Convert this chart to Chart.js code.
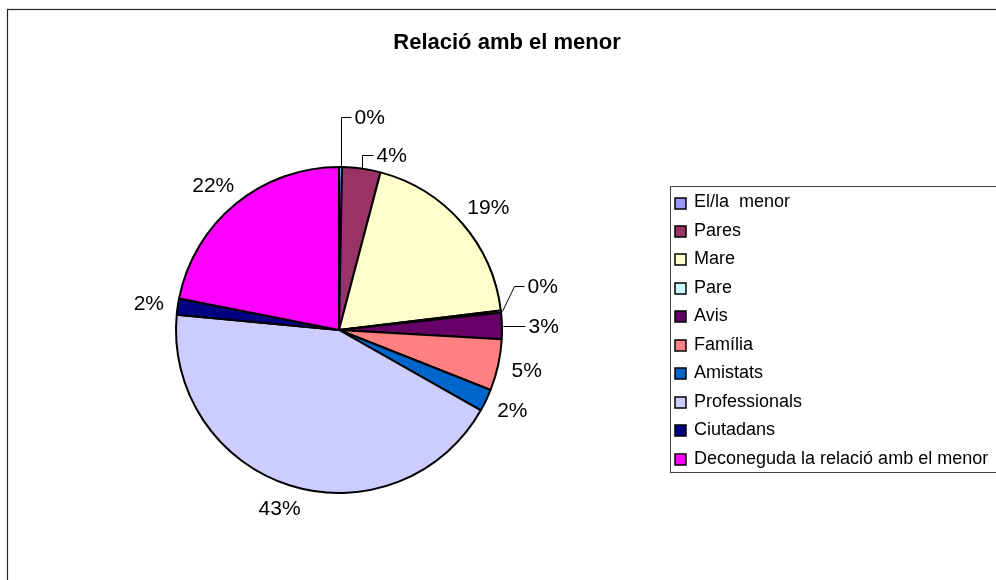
<!DOCTYPE html>
<html>
<head>
<meta charset="utf-8">
<script src="https://cdn.jsdelivr.net/npm/chart.js@4/dist/chart.umd.min.js"></script>
<style>
  html, body { margin: 0; padding: 0; background: #fff; }
  #wrap { width: 996px; height: 580px; }
</style>
</head>
<body>
<div id="wrap"><canvas id="chart" width="996" height="580"></canvas></div>
<script>
const chartTitle = 'Relació amb el menor';
const categories = ['El/la  menor', 'Pares', 'Mare', 'Pare', 'Avis', 'Família', 'Amistats', 'Professionals', 'Ciutadans', 'Deconeguda la relació amb el menor'];
const percentValues = [0.3, 3.8, 19.0, 0.2, 2.6, 5.1, 2.2, 43.3, 1.6, 21.9];
const sliceColors = ['#9999FF', '#993366', '#FFFFCC', '#CCFFFF', '#660066', '#FF8080', '#0066CC', '#CCCCFF', '#000080', '#FF00FF'];

// labels of the thin slices are pulled out with a leader line
const callouts = {
    0: { dx: 0, dy: -49, run: 10 },
    1: { dx: 0, dy: -13, run: 11 },
    3: { dx: 12, dy: -25, run: 10 },
    4: { dx: 0, dy: 0, run: 22 }
};

const FONT = '"Liberation Sans", Arial, sans-serif';

const frameAndTitle = {
    id: 'frameAndTitle',
    beforeDraw(chart) {
        const ctx = chart.ctx;
        ctx.save();
        ctx.fillStyle = '#fff';
        ctx.fillRect(0, 0, chart.width, chart.height);
        ctx.strokeStyle = '#222';
        ctx.lineWidth = 1.2;
        ctx.strokeRect(7.5, 9.5, 1200, 1000);
        ctx.fillStyle = '#000';
        ctx.font = 'bold 22px ' + FONT;
        ctx.textAlign = 'center';
        ctx.textBaseline = 'alphabetic';
        ctx.fillText(chartTitle, 507, 49);
        ctx.restore();
    }
};

const sideLegend = {
    id: 'sideLegend',
    afterDraw(chart) {
        const ctx = chart.ctx;
        const labels = chart.data.labels;
        const colors = chart.data.datasets[0].backgroundColor;
        ctx.save();
        ctx.strokeStyle = '#444';
        ctx.lineWidth = 1;
        ctx.strokeRect(670.5, 186.5, 400, 286);
        ctx.font = '18px ' + FONT;
        ctx.textAlign = 'left';
        ctx.textBaseline = 'middle';
        labels.forEach((label, i) => {
            const cy = 202.5 + i * 28.45;
            ctx.fillStyle = colors[i];
            ctx.fillRect(675, Math.round(cy) - 5, 11, 11);
            ctx.strokeStyle = '#000';
            ctx.lineWidth = 1.5;
            ctx.strokeRect(675, Math.round(cy) - 5, 11, 11);
            ctx.fillStyle = '#000';
            ctx.fillText(label, 694, cy);
        });
        ctx.restore();
    }
};

const pieLabels = {
    id: 'pieLabels',
    afterDatasetsDraw(chart) {
        const ctx = chart.ctx;
        const meta = chart.getDatasetMeta(0);
        const values = chart.data.datasets[0].data;
        const total = values.reduce((a, b) => a + b, 0);
        ctx.save();
        ctx.font = '21px ' + FONT;
        ctx.fillStyle = '#000';
        ctx.strokeStyle = '#000';
        ctx.lineWidth = 1;
        meta.data.forEach((arc, i) => {
            const p = arc.getProps(['x', 'y', 'startAngle', 'endAngle', 'outerRadius'], true);
            const mid = (p.startAngle + p.endAngle) / 2;
            const cos = Math.cos(mid), sin = Math.sin(mid);
            const text = Math.round(values[i] / total * 100) + '%';
            const c = callouts[i];
            if (c) {
                const px = Math.round(p.x + cos * (p.outerRadius + 1)) + 0.5;
                const py = Math.round(p.y + sin * (p.outerRadius + 1)) + 0.5;
                const ex = px + c.dx, ey = py + c.dy;
                ctx.beginPath();
                ctx.moveTo(px, py);
                ctx.lineTo(ex, ey);
                ctx.lineTo(ex + c.run, ey);
                ctx.stroke();
                ctx.textAlign = 'left';
                ctx.textBaseline = 'middle';
                ctx.fillText(text, ex + c.run + 3, ey + 1);
            } else {
                const w = ctx.measureText(text).width, h = 20;
                const ax = p.x + cos * (p.outerRadius + 14);
                const ay = p.y + sin * (p.outerRadius + 14);
                ctx.textAlign = 'center';
                ctx.textBaseline = 'middle';
                ctx.fillText(text, ax + cos * w / 2, ay + sin * h / 2 + 1);
            }
        });
        ctx.restore();
    }
};

new Chart(document.getElementById('chart'), {
    type: 'pie',
    data: {
        labels: categories,
        datasets: [{
            data: percentValues,
            backgroundColor: sliceColors,
            borderColor: '#000',
            borderWidth: 2,
            hoverOffset: 0,
            offset: 0
        }]
    },
    options: {
        responsive: false,
        animation: false,
        events: [],
        layout: { padding: { left: 175, right: 493, top: 166, bottom: 86 } },
        plugins: {
            legend: { display: false },
            title: { display: false },
            tooltip: { enabled: false }
        }
    },
    plugins: [frameAndTitle, pieLabels, sideLegend]
});
</script>
</body>
</html>
